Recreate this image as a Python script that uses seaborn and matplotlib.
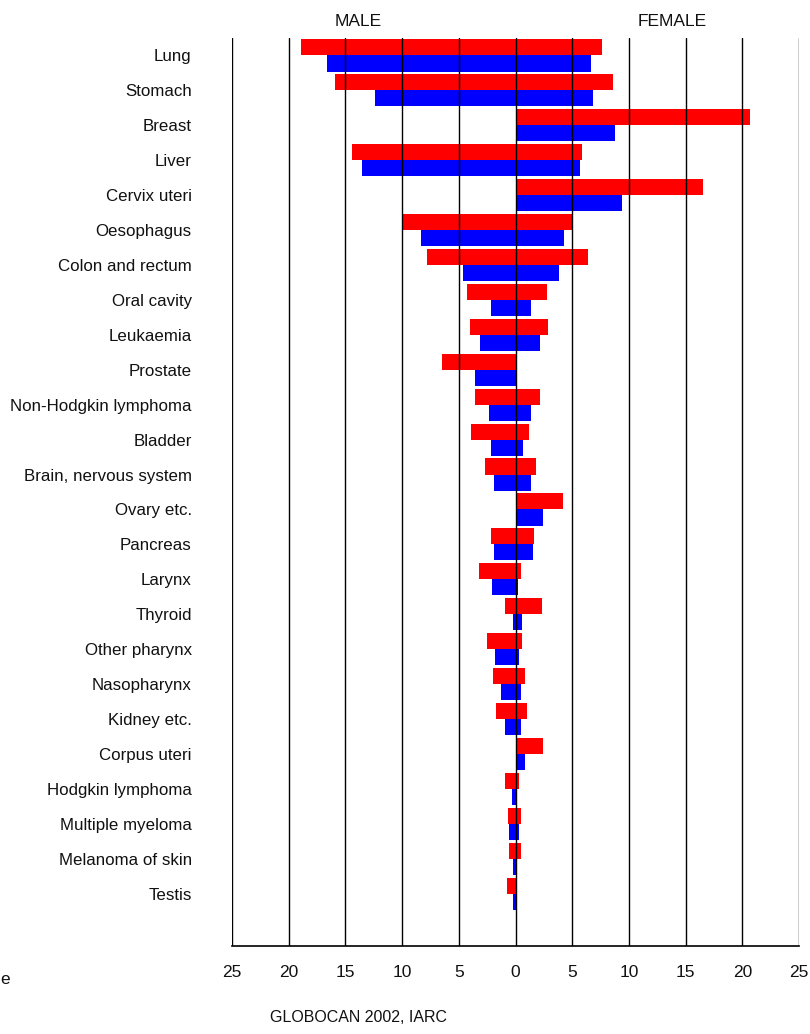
import pandas as pd
import seaborn as sns
import matplotlib.pyplot as plt

# cancer sites, top to bottom
cancers = ["Lung", "Stomach", "Breast", "Liver", "Cervix uteri", "Oesophagus",
           "Colon and rectum", "Oral cavity", "Leukaemia", "Prostate",
           "Non-Hodgkin lymphoma", "Bladder", "Brain, nervous system",
           "Ovary etc.", "Pancreas", "Larynx", "Thyroid", "Other pharynx",
           "Nasopharynx", "Kidney etc.", "Corpus uteri", "Hodgkin lymphoma",
           "Multiple myeloma", "Melanoma of skin", "Testis"]

# rates (None = site does not apply)
male_incidence = [18.9, 15.9, None, 14.4, None, 10.0, 7.8, 4.3, 4.0, 6.5,
                  3.6, 3.9, 2.7, None, 2.15, 3.2, 0.9, 2.5, 2.0, 1.7,
                  None, 0.9, 0.65, 0.55, 0.75]
male_mortality = [16.6, 12.4, None, 13.5, None, 8.3, 4.6, 2.2, 3.1, 3.6,
                  2.3, 2.2, 1.9, None, 1.9, 2.05, 0.25, 1.8, 1.3, 0.9,
                  None, 0.35, 0.6, 0.25, 0.25]
female_incidence = [7.6, 8.6, 20.7, 5.9, 16.5, 5.1, 6.4, 2.8, 2.9, None,
                    2.2, 1.2, 1.8, 4.2, 1.6, 0.45, 2.3, 0.55, 0.8, 1.0,
                    2.4, 0.35, 0.45, 0.45, None]
female_mortality = [6.7, 6.8, 8.8, 5.7, 9.4, 4.3, 3.8, 1.4, 2.2, None,
                    1.4, 0.65, 1.4, 2.4, 1.5, 0.25, 0.55, 0.35, 0.45, 0.45,
                    0.8, 0.05, 0.35, 0.15, None]

tick_values = list(range(-25, 30, 5))
tick_labels = [str(abs(v)) for v in tick_values]


def long_frame(inc, mort, sign):
    rows = []
    for c, a, b in zip(cancers, inc, mort):
        rows.append((c, "Incidence", None if a is None else sign * a))
        rows.append((c, "Mortality", None if b is None else sign * b))
    return pd.DataFrame(rows, columns=["cancer", "measure", "rate"])


male = long_frame(male_incidence, male_mortality, -1)
female = long_frame(female_incidence, female_mortality, 1)

sns.set_style("white")
plt.rcParams["font.family"] = ["Liberation Sans", "DejaVu Sans"]
plt.rcParams["text.color"] = "#111111"

fig = plt.figure(figsize=(8.1, 10.34), dpi=100)
ax = fig.add_axes([232 / 810, 1 - 946 / 1034, 567 / 810, 908 / 1034])

pal = {"Incidence": "#ff0000", "Mortality": "#0000ff"}
for df in (male, female):
    sns.barplot(data=df, x="rate", y="cancer", hue="measure", order=cancers,
                hue_order=["Incidence", "Mortality"], palette=pal,
                saturation=1, width=0.92, dodge=True, linewidth=0,
                legend=False, ax=ax, zorder=2)

# vertical grid lines drawn over the bars
for v in tick_values:
    ax.axvline(v, color="black", lw=1, zorder=3)

ax.set_xlim(-25, 25)
ax.set_ylim(25.5, -0.5)
ax.set_xticks(tick_values)
ax.set_xticklabels(tick_labels, fontsize=12.5, color="#111111")
ax.tick_params(axis="x", direction="out", length=6, width=1, color="black", pad=8)
ax.tick_params(axis="y", length=0, pad=29, labelsize=12.2, labelcolor="#111111")
ax.set_xlabel("")
ax.set_ylabel("")
for s in ("top", "left", "right"):
    ax.spines[s].set_visible(False)
ax.spines["bottom"].set_color("black")
ax.spines["bottom"].set_linewidth(1.2)

fig.text(358 / 810, 1 - 22 / 1034, "MALE", ha="center", va="center", fontsize=12.5)
fig.text(672 / 810, 1 - 22 / 1034, "FEMALE", ha="center", va="center", fontsize=12.5)
fig.text(270 / 810, 1 - 1018 / 1034, "GLOBOCAN 2002, IARC", ha="left", va="center", fontsize=11.5)
fig.text(0.0, 1 - 980 / 1034, "e", ha="left", va="center", fontsize=12.5)

fig.savefig("out.png", dpi=100, facecolor="white")
